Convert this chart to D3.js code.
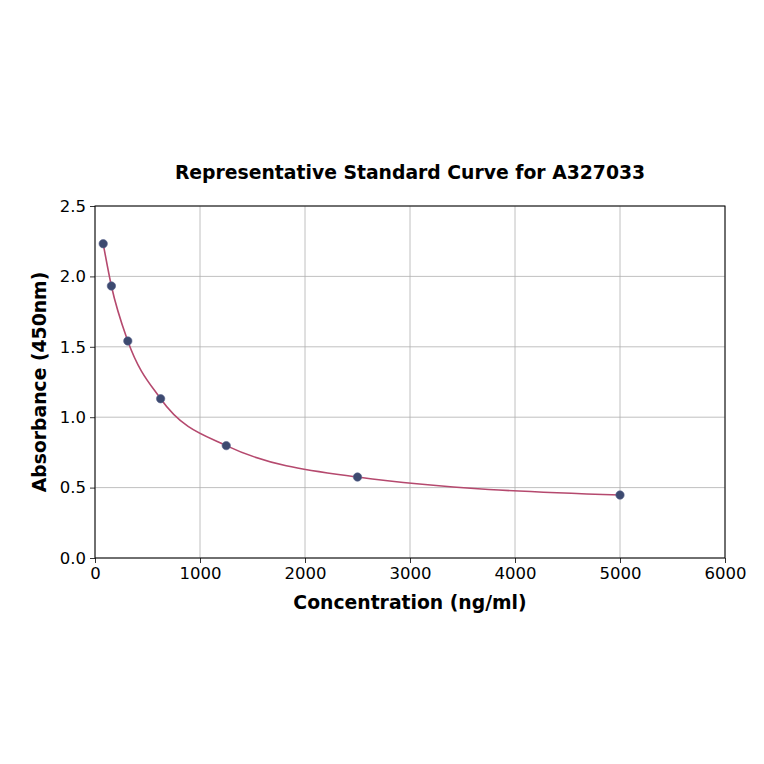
<!DOCTYPE html>
<html>
<head>
<meta charset="utf-8">
<script src="https://cdn.jsdelivr.net/npm/d3@7"></script>
<style>
  body { margin: 0; background: #fff; }
  text { font-family: "DejaVu Sans", sans-serif; }
</style>
</head>
<body>
<svg id="chart"></svg>
<script>
// standard concentrations (ng/ml) and measured absorbance at 450nm
const concentrations = [78.125, 156.25, 312.5, 625, 1250, 2500, 5000];
const absorbance = [2.232, 1.932, 1.541, 1.131, 0.798, 0.575, 0.447];
const xTicks = [0, 1000, 2000, 3000, 4000, 5000, 6000];
const yTicks = [0.0, 0.5, 1.0, 1.5, 2.0, 2.5];

const chartTitle = 'Representative Standard Curve for A327033';
const xLabel = 'Concentration (ng/ml)';
const yLabel = 'Absorbance (450nm)';

const width = 764, height = 764;
const margin = { left: 95, right: 39, top: 206, bottom: 206 };

const svg = d3.select('#chart')
    .attr('width', width)
    .attr('height', height);

const x = d3.scaleLinear()
    .domain([0, 6000])
    .range([margin.left, width - margin.right]);

const y = d3.scaleLinear()
    .domain([0, 2.5])
    .range([height - margin.bottom, margin.top]);

const points = concentrations.map((c, i) => ({ c: c, a: absorbance[i] }));

// grid
svg.append('g')
    .selectAll('line')
    .data(xTicks)
    .enter()
    .append('line')
    .attr('x1', d => x(d)).attr('x2', d => x(d))
    .attr('y1', y(0)).attr('y2', y(2.5))
    .attr('stroke', '#b0b0b0')
    .attr('stroke-width', 0.8);

svg.append('g')
    .selectAll('line')
    .data(yTicks)
    .enter()
    .append('line')
    .attr('x1', x(0)).attr('x2', x(6000))
    .attr('y1', d => y(d)).attr('y2', d => y(d))
    .attr('stroke', '#b0b0b0')
    .attr('stroke-width', 0.8);

// fitted curve
const line = d3.line()
    .x(d => x(d.c))
    .y(d => y(d.a))
    .curve(d3.curveMonotoneX);

svg.append('path')
    .datum(points)
    .attr('d', line)
    .attr('fill', 'none')
    .attr('stroke', '#b5496e')
    .attr('stroke-width', 1.6);

// points
svg.append('g')
    .selectAll('circle')
    .data(points)
    .enter()
    .append('circle')
    .attr('cx', d => x(d.c))
    .attr('cy', d => y(d.a))
    .attr('r', 4.2)
    .attr('fill', '#3d4a70')
    .attr('stroke', '#55608a')
    .attr('stroke-width', 0.6);

// axes
const xAxis = svg.append('g')
    .attr('transform', `translate(0, ${y(0)})`)
    .call(d3.axisBottom(x).tickValues(xTicks).tickFormat(d3.format('d')).tickSize(5).tickPadding(4));

const yAxis = svg.append('g')
    .attr('transform', `translate(${x(0)}, 0)`)
    .call(d3.axisLeft(y).tickValues(yTicks).tickFormat(d3.format('.1f')).tickSize(5).tickPadding(4));

[xAxis, yAxis].forEach(g => {
    g.selectAll('text')
        .style('font-size', '16.5px')
        .attr('fill', '#000');
    g.selectAll('line').attr('stroke', '#000').attr('stroke-width', 0.8);
    g.select('.domain').remove();
});

// frame
svg.append('rect')
    .attr('x', x(0))
    .attr('y', y(2.5))
    .attr('width', x(6000) - x(0))
    .attr('height', y(0) - y(2.5))
    .attr('fill', 'none')
    .attr('stroke', '#000')
    .attr('stroke-width', 1);

// titles
svg.append('text')
    .attr('x', (x(0) + x(6000)) / 2)
    .attr('y', 179)
    .attr('text-anchor', 'middle')
    .style('font-size', '18.8px')
    .style('font-weight', 'bold')
    .text(chartTitle);

svg.append('text')
    .attr('x', (x(0) + x(6000)) / 2)
    .attr('y', 609)
    .attr('text-anchor', 'middle')
    .style('font-size', '18.8px')
    .style('font-weight', 'bold')
    .text(xLabel);

svg.append('text')
    .attr('transform', `translate(46, ${(y(0) + y(2.5)) / 2}) rotate(-90)`)
    .attr('text-anchor', 'middle')
    .style('font-size', '18.8px')
    .style('font-weight', 'bold')
    .text(yLabel);
</script>
</body>
</html>
